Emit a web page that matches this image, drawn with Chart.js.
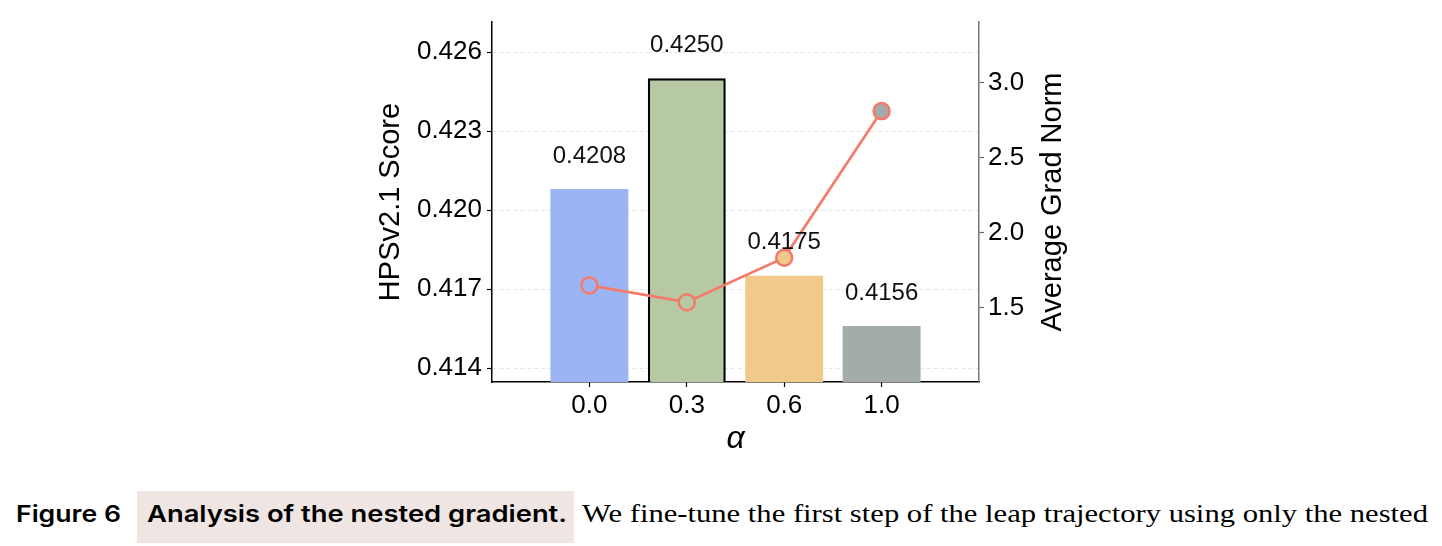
<!DOCTYPE html>
<html>
<head>
<meta charset="utf-8">
<script src="https://cdn.jsdelivr.net/npm/chart.js@4"></script>
<style>
  html, body { margin: 0; padding: 0; background: #fff; }
  body { width: 1442px; height: 546px; position: relative; overflow: hidden; }
  #wrap { position: absolute; left: 360px; top: 0; width: 740px; height: 470px; }
  #caption { position: absolute; left: 0; top: 480px; }
</style>
</head>
<body>
<div id="wrap"><canvas id="chart"></canvas></div>
<svg id="caption" width="1442" height="66">
  <rect x="137" y="11" width="437" height="52" fill="#efe5e3"></rect>
  <text x="16" y="42" font-family="Inter" font-weight="600" font-size="23" textLength="105" lengthAdjust="spacingAndGlyphs" fill="#000">Figure 6</text>
  <text x="147" y="42" font-family="Inter" font-weight="600" font-size="23" textLength="420" lengthAdjust="spacingAndGlyphs" fill="#000">Analysis of the nested gradient.</text>
  <text x="582" y="42" font-family="Liberation Serif" font-size="26" textLength="846" lengthAdjust="spacingAndGlyphs" fill="#000">We fine-tune the first step of the leap trajectory using only the nested</text>
</svg>
<script>
const alphaLabels = ['0.0', '0.3', '0.6', '1.0'];
const hpsScores = [0.4208, 0.4250, 0.4175, 0.4156];
const gradNorms = [1.649, 1.537, 1.833, 2.811];
const leftTicks = [0.414, 0.417, 0.420, 0.423, 0.426];
const rightTicks = [1.5, 2.0, 2.5, 3.0];
const barColors = ['#9db4f4', '#b7c9a3', '#f0c98b', '#a3abab'];
const lineColor = '#f47b6b';

const FONT = 'Liberation Sans';

const ctx = document.getElementById('chart').getContext('2d');

new Chart(ctx, {
  data: {
    datasets: [
      {
        type: 'line',
        order: 0,
        yAxisID: 'y2',
        data: gradNorms.map((v, i) => ({ x: i, y: v })),
        borderColor: lineColor,
        borderWidth: 2.7,
        pointRadius: 8,
        pointHoverRadius: 8,
        pointBorderWidth: 2.5,
        pointBorderColor: lineColor,
        pointBackgroundColor: barColors,
        tension: 0,
      },
      {
        type: 'bar',
        order: 1,
        yAxisID: 'y',
        data: hpsScores.map((v, i) => ({ x: i, y: v })),
        backgroundColor: barColors,
        borderColor: '#000',
        borderWidth: [0, 2.5, 0, 0],
        borderSkipped: false,
        categoryPercentage: 0.8,
        barPercentage: 1.0,
      },
    ],
  },
  options: {
    responsive: true,
    maintainAspectRatio: false,
    animation: false,
    layout: { padding: { left: 0, right: 21, top: 22, bottom: 0 } },
    plugins: {
      legend: { display: false },
      tooltip: { enabled: false },
    },
    scales: {
      x: {
        type: 'linear',
        min: -1,
        max: 4,
        offset: false,
        afterBuildTicks: (scale) => {
          scale.ticks = alphaLabels.map((_, i) => ({ value: i }));
        },
        afterFit: (scale) => { scale.height = 88; },
        ticks: {
          callback: (v) => alphaLabels[v],
          color: '#000',
          font: { family: FONT, size: 26 },
          padding: 3,
          maxRotation: 0,
        },
        grid: {
          offset: false,
          drawOnChartArea: false,
          tickLength: 5,
          tickColor: '#000',
          tickWidth: 1.2,
        },
        border: { color: '#000', width: 1.5 },
        title: {
          display: true,
          text: 'α',
          color: '#000',
          font: { family: FONT, size: 32, style: 'italic' },
          padding: { top: 0, bottom: 12 },
        },
      },
      y: {
        position: 'left',
        min: 0.41347,
        max: 0.42714,
        afterBuildTicks: (scale) => {
          scale.ticks = leftTicks.map((v) => ({ value: v }));
        },
        afterFit: (scale) => { scale.width = 132; },
        ticks: {
          callback: (v) => v.toFixed(3),
          color: '#000',
          font: { family: FONT, size: 26 },
          padding: 5,
        },
        grid: {
          color: '#e4e4e4',
          lineWidth: 1,
          tickLength: 5,
          tickColor: '#000',
          tickWidth: 1.2,
        },
        border: { color: '#000', width: 1.5, dash: [4, 3] },
        title: {
          display: true,
          text: 'HPSv2.1 Score',
          color: '#000',
          font: { family: FONT, size: 29 },
          padding: { top: 14, bottom: 0 },
        },
      },
      y2: {
        position: 'right',
        min: 1.005,
        max: 3.405,
        afterBuildTicks: (scale) => {
          scale.ticks = rightTicks.map((v) => ({ value: v }));
        },
        afterFit: (scale) => { scale.width = 100; },
        ticks: {
          callback: (v) => v.toFixed(1),
          color: '#000',
          font: { family: FONT, size: 26 },
          padding: 4,
        },
        grid: {
          drawOnChartArea: false,
          tickLength: 5,
          tickColor: '#666',
          tickWidth: 1.2,
        },
        border: { color: '#777', width: 1.5 },
        title: { display: false },
      },
    },
  },
  plugins: [
    {
      id: 'valueLabels',
      afterDatasetsDraw(chart) {
        const { ctx } = chart;
        chart.getDatasetMeta(1).data.forEach((bar, i) => {
          ctx.save();
          ctx.fillStyle = '#111';
          ctx.font = `24px "${FONT}"`;
          ctx.textAlign = 'center';
          ctx.textBaseline = 'middle';
          ctx.fillText(hpsScores[i].toFixed(4), bar.x, bar.y - 33);
          ctx.restore();
        });
      },
    },
    {
      // right-hand axis title, reading bottom to top like the left one
      id: 'rightTitle',
      afterDraw(chart) {
        const { ctx, chartArea } = chart;
        const s = chart.scales.y2;
        ctx.save();
        ctx.translate(s.right - 26, (chartArea.top + chartArea.bottom) / 2);
        ctx.rotate(-Math.PI / 2);
        ctx.fillStyle = '#000';
        ctx.font = `29px "${FONT}"`;
        ctx.textAlign = 'center';
        ctx.textBaseline = 'middle';
        ctx.fillText('Average Grad Norm', 0, 0);
        ctx.restore();
      },
    },
  ],
});
</script>
</body>
</html>
